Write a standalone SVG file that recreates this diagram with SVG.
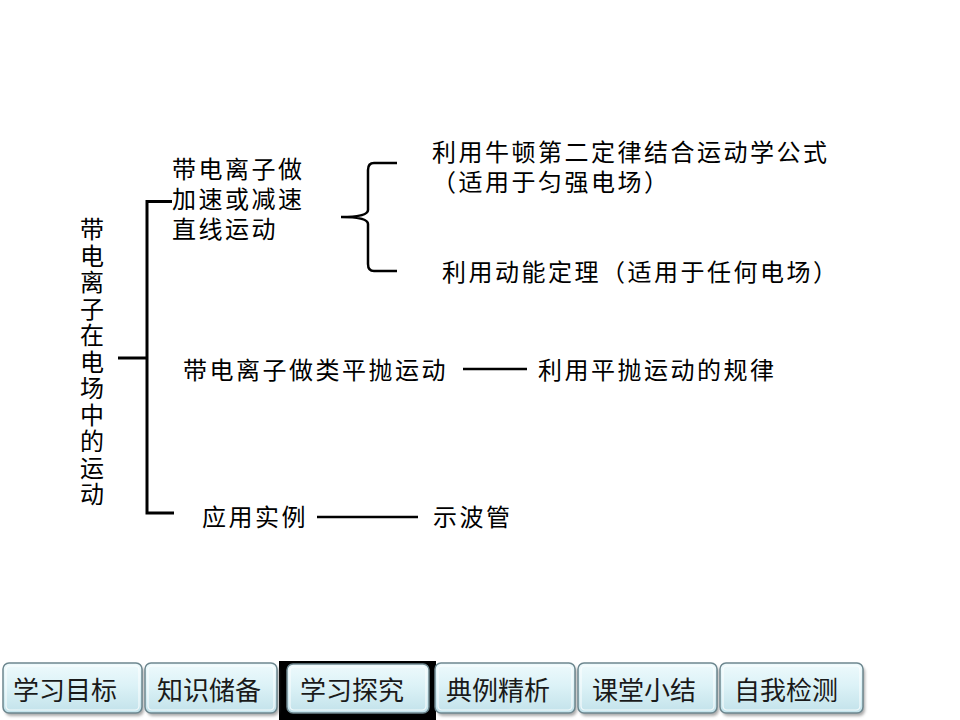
<svg xmlns="http://www.w3.org/2000/svg" width="960" height="720" viewBox="0 0 960 720">
<defs>
<linearGradient id="btnFill" x1="0" y1="0" x2="0" y2="1">
<stop offset="0" stop-color="#eefafc"/>
<stop offset="0.45" stop-color="#dcf2f7"/>
<stop offset="1" stop-color="#c2e2ea"/>
</linearGradient>
<filter id="shadow" x="-10%" y="-20%" width="130%" height="160%">
<feGaussianBlur stdDeviation="1.5"/>
</filter>
</defs>
<style>
.t{font-family:"Liberation Sans","Noto Sans CJK SC",sans-serif;font-size:24px;letter-spacing:2.5px;fill:#000}
.v{font-family:"Liberation Sans","Noto Sans CJK SC",sans-serif;font-size:24px;fill:#000;text-anchor:middle}
.ln{stroke:#000;stroke-width:3;fill:none}
.ln2{stroke:#000;stroke-width:2.5;fill:none}
.btn{fill:url(#btnFill);stroke:#6d878f;stroke-width:1.5}
.hl{fill:none;stroke:#ffffff;stroke-width:1.2;opacity:0.8}
.sh{fill:#555;opacity:0.5;filter:url(#shadow)}
.bt{font-family:"Liberation Serif","Noto Sans CJK SC",serif;font-size:26px;fill:#1a1a1a}
</style>
<rect width="960" height="720" fill="#ffffff"/>

<g id="title">
<text class="v">
<tspan x="92" y="238">带</tspan><tspan x="92" y="264.5">电</tspan><tspan x="92" y="291">离</tspan><tspan x="92" y="317.5">子</tspan><tspan x="92" y="344">在</tspan><tspan x="92" y="370.5">电</tspan><tspan x="92" y="397">场</tspan><tspan x="92" y="423.5">中</tspan><tspan x="92" y="450">的</tspan><tspan x="92" y="476.5">运</tspan><tspan x="92" y="503">动</tspan>
</text>
</g>

<g id="node-linear">
<text class="t" x="172" y="178">带电离子做</text>
<text class="t" x="172" y="208">加速或减速</text>
<text class="t" x="172" y="238">直线运动</text>
</g>

<g id="node-newton">
<text class="t" x="432" y="161">利用牛顿第二定律结合运动学公式</text>
<text class="t" x="432" y="191">（适用于匀强电场）</text>
</g>

<g id="node-energy">
<text class="t" x="442" y="281">利用动能定理（适用于任何电场）</text>
</g>

<g id="node-projectile">
<text class="t" x="183" y="379">带电离子做类平抛运动</text>
</g>

<g id="node-projectile-rule">
<text class="t" x="538" y="379">利用平抛运动的规律</text>
</g>

<g id="node-application">
<text class="t" x="202" y="526">应用实例</text>
</g>

<g id="node-oscilloscope">
<text class="t" x="433" y="526">示波管</text>
</g>

<g id="connectors">
<path class="ln" d="M172 201.5 H147 V513 H174"/>
<path class="ln" d="M118 358 H147"/>
<path class="ln2" d="M397 163 H374 Q368 163 368 170 V210 Q368 217 341 217 Q368 217 368 224 V264 Q368 271 374 271 H397"/>
<path class="ln2" d="M463 369 H527"/>
<path class="ln2" d="M317 517 H418"/>
</g>

<g id="nav">
<rect x="279" y="661" width="157" height="59" fill="#000"/>
<g id="btn1">
<rect class="sh" x="5" y="666" width="139" height="50" rx="6"/>
<rect class="btn" x="3" y="663" width="139" height="50" rx="6"/>
<rect class="hl" x="6" y="666" width="133" height="44" rx="4"/>
<text class="bt" x="13" y="700">学习目标</text>
</g>
<g id="btn2">
<rect class="sh" x="147" y="666" width="132" height="50" rx="6"/>
<rect class="btn" x="145" y="663" width="132" height="50" rx="6"/>
<rect class="hl" x="148" y="666" width="126" height="44" rx="4"/>
<text class="bt" x="157" y="700">知识储备</text>
</g>
<g id="btn3">
<rect class="btn" x="287" y="664" width="142" height="49" rx="6"/>
<rect class="hl" x="290" y="667" width="136" height="43" rx="4"/>
<text class="bt" x="300" y="700">学习探究</text>
</g>
<g id="btn4">
<rect class="sh" x="437" y="666" width="140" height="50" rx="6"/>
<rect class="btn" x="435" y="663" width="140" height="50" rx="6"/>
<rect class="hl" x="438" y="666" width="134" height="44" rx="4"/>
<text class="bt" x="446" y="700">典例精析</text>
</g>
<g id="btn5">
<rect class="sh" x="580" y="666" width="139" height="50" rx="6"/>
<rect class="btn" x="578" y="663" width="139" height="50" rx="6"/>
<rect class="hl" x="581" y="666" width="133" height="44" rx="4"/>
<text class="bt" x="592" y="700">课堂小结</text>
</g>
<g id="btn6">
<rect class="sh" x="722" y="666" width="143" height="50" rx="6"/>
<rect class="btn" x="720" y="663" width="143" height="50" rx="6"/>
<rect class="hl" x="723" y="666" width="137" height="44" rx="4"/>
<text class="bt" x="734" y="700">自我检测</text>
</g>
</g>
</svg>
